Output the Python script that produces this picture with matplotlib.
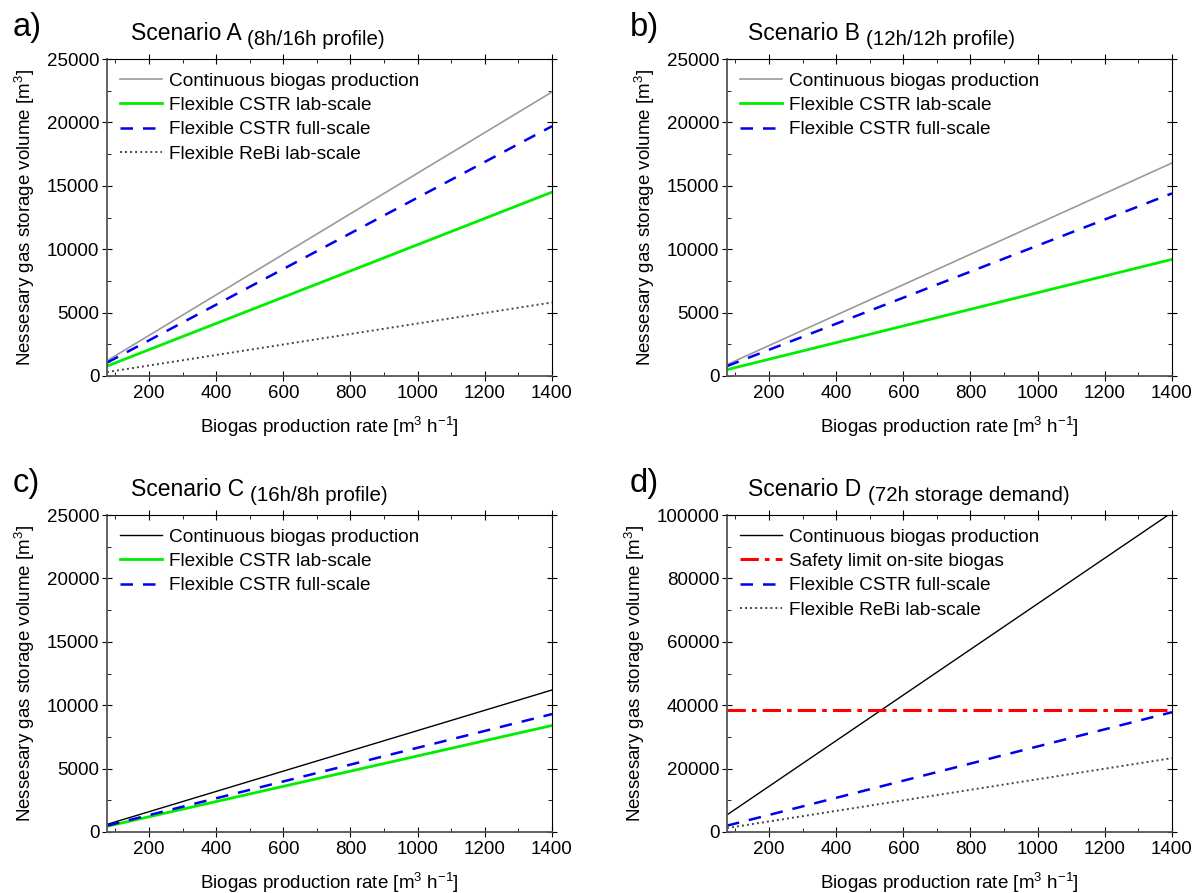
import matplotlib

matplotlib.use("Agg")
import matplotlib.pyplot as plt
from matplotlib.ticker import MultipleLocator

plt.rcParams["font.family"] = ["Liberation Sans", "DejaVu Sans"]
plt.rcParams["mathtext.fontset"] = "custom"
plt.rcParams["mathtext.rm"] = "Liberation Sans"
plt.rcParams["mathtext.it"] = "Liberation Sans:italic"

# biogas production rate [m3/h], line end points
rate = [75, 1400]

# scenario A (8h/16h)
a_cont = [1200, 22400]
a_lab = [780, 14500]
a_full = [1050, 19700]
a_rebi = [310, 5800]
# scenario B (12h/12h)
b_cont = [900, 16800]
b_lab = [500, 9200]
b_full = [780, 14400]
# scenario C (16h/8h)
c_cont = [600, 11200]
c_lab = [450, 8400]
c_full = [500, 9300]
# scenario D (72h storage)
d_cont = [5400, 100800]
d_safety = [38500, 38500]
d_full = [2000, 37800]
d_rebi = [1250, 23300]

letters = ["a)", "b)", "c)", "d)"]
titles = ["Scenario A", "Scenario B", "Scenario C", "Scenario D"]
subtitles = ["(8h/16h profile)", "(12h/12h profile)", "(16h/8h profile)", "(72h storage demand)"]

STYLE = {
    "cont_gray": dict(color="#9a9a9a", lw=1.2, ls="-"),
    "cont_black": dict(color="black", lw=1.0, ls="-"),
    "lab": dict(color="#00ee00", lw=2.0, ls="-"),
    "full": dict(color="#0000ee", lw=1.8, ls=(0, (5, 4))),
    "rebi": dict(color="#444444", lw=1.4, ls=(0, (1, 1.6))),
    "safety": dict(color="#ff0000", lw=2.2, ls=(0, (6, 2, 1.5, 2))),
}

panels = [
    [("Continuous biogas production", a_cont, "cont_gray"),
     ("Flexible CSTR lab-scale", a_lab, "lab"),
     ("Flexible CSTR full-scale", a_full, "full"),
     ("Flexible ReBi lab-scale", a_rebi, "rebi")],
    [("Continuous biogas production", b_cont, "cont_gray"),
     ("Flexible CSTR lab-scale", b_lab, "lab"),
     ("Flexible CSTR full-scale", b_full, "full")],
    [("Continuous biogas production", c_cont, "cont_black"),
     ("Flexible CSTR lab-scale", c_lab, "lab"),
     ("Flexible CSTR full-scale", c_full, "full")],
    [("Continuous biogas production", d_cont, "cont_black"),
     ("Safety limit on-site biogas", d_safety, "safety"),
     ("Flexible CSTR full-scale", d_full, "full"),
     ("Flexible ReBi lab-scale", d_rebi, "rebi")],
]
ymax = [25000, 25000, 25000, 100000]
ymajor = [5000, 5000, 5000, 20000]

W, H = 1200, 893
boxes = [(107, 59), (727, 59), (107, 515), (727, 515)]  # left, top in px
aw, ah = 445, 317

fig = plt.figure(figsize=(12, 8.93), dpi=100)
for i, (series, (lx, ty)) in enumerate(zip(panels, boxes)):
    ax = fig.add_axes([lx / W, 1 - (ty + ah) / H, aw / W, ah / H])
    for label, y, key in series:
        ax.plot(rate, y, label=label, **STYLE[key])
    ax.set_xlim(75, 1400)
    ax.set_ylim(0, ymax[i])
    ax.xaxis.set_major_locator(MultipleLocator(200))
    ax.xaxis.set_minor_locator(MultipleLocator(100))
    ax.yaxis.set_major_locator(MultipleLocator(ymajor[i]))
    ax.yaxis.set_minor_locator(MultipleLocator(ymajor[i] / 2))
    ax.tick_params(which="both", direction="in", top=True, right=True, labelsize=13.5)
    ax.tick_params(which="major", length=5)
    ax.tick_params(which="minor", length=3)
    # ticks on the left/bottom stick out a bit in the original
    ax.tick_params(axis="y", which="major", direction="inout", length=7, pad=2)
    ax.tick_params(axis="x", which="major", direction="inout", length=7, pad=3)
    for side in ("left", "bottom"):
        ax.spines[side].set_color("#555555")
        ax.spines[side].set_linewidth(1.3)
    ax.set_xlabel("Biogas production rate [m$^3$ h$^{-1}$]", fontsize=13.5, labelpad=9)
    ax.set_ylabel("Nessesary gas storage volume [m$^3$]", fontsize=13.5, labelpad=7)
    ax.legend(loc="upper left", frameon=False, fontsize=13.7, handlelength=2.2,
              handletextpad=0.35, labelspacing=0.37, borderaxespad=0.4,
              borderpad=0.3)

    fx = 13 if lx < 600 else 630
    fig.text(fx / W, 1 - (ty - 23) / H, letters[i], fontsize=23.5, va="baseline")
    t = fig.text((fx + 118) / W, 1 - (ty - 19) / H, titles[i] + " ", fontsize=16.5, va="baseline")
    fig.canvas.draw()
    ax.annotate(subtitles[i], xy=(1, 0), xycoords=t, fontsize=14.8, va="baseline")

fig.savefig("out.png", dpi=100)
